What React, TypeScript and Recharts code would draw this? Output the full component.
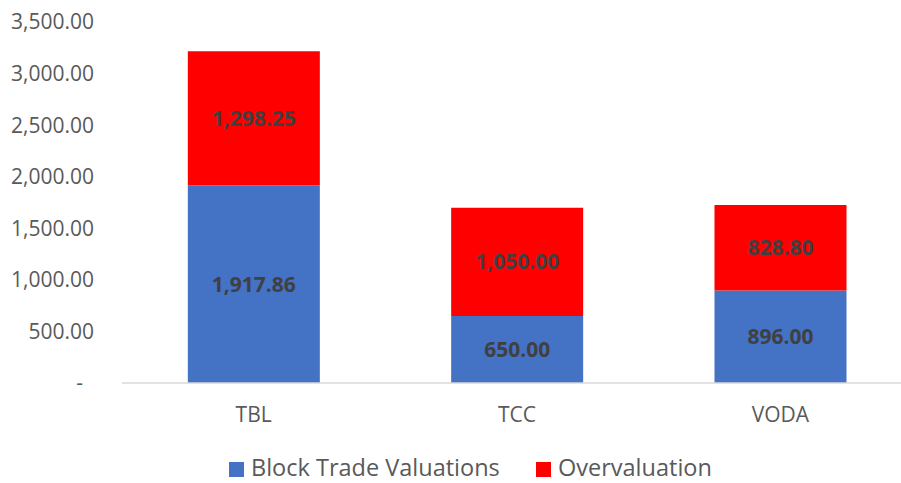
import { Bar, BarChart, LabelList, XAxis, YAxis } from "recharts";

const companies = ["TBL", "TCC", "VODA"];
const blockTrade = [1917.86, 650.0, 896.0];
const overvaluation = [1298.25, 1050.0, 828.8];
const yTicks = [0, 500, 1000, 1500, 2000, 2500, 3000, 3500];

const data = companies.map((name, i) => ({
  name,
  block: blockTrade[i],
  over: overvaluation[i],
}));

const FONT = "'Open Sans', sans-serif";

const fmt = (v: number) =>
  v === 0
    ? "-\u00a0\u00a0"
    : v.toLocaleString("en-US", { minimumFractionDigits: 2, maximumFractionDigits: 2 });

// legend sits below the plot; text box kept inside the 483px page
function ChartLegend() {
  const items = [
    { label: "Block Trade Valuations", color: "#4472c4", left: 229 },
    { label: "Overvaluation", color: "#ff0000", left: 536 },
  ];
  return (
    <>
      {items.map((it) => (
        <div key={it.label}>
          <span
            style={{
              position: "absolute",
              left: it.left,
              top: 462,
              width: 15,
              height: 15,
              background: it.color,
            }}
          />
          <span
            style={{
              position: "absolute",
              left: it.left + 22,
              top: 451,
              lineHeight: "32px",
              fontFamily: FONT,
              fontSize: 23.5,
              color: "#595959",
              whiteSpace: "nowrap",
            }}
          >
            {it.label}
          </span>
        </div>
      ))}
    </>
  );
}

export default function App() {
  return (
    <div style={{ position: "fixed", left: 0, top: 0, width: 901, height: 483, background: "#fff" }}>
      <div style={{ width: 901, height: 483, overflow: "hidden" }}>
        <BarChart
          width={920}
          height={483}
          data={data}
          margin={{ top: 22, right: 8, bottom: 70, left: 0 }}
          barCategoryGap="25%"
        >
          <XAxis
            dataKey="name"
            height={30}
            axisLine={{ stroke: "#d9d9d9", strokeWidth: 1.5 }}
            tickLine={false}
            tickSize={0}
            tickMargin={24}
            tick={{ fill: "#595959", fontSize: 21, fontFamily: FONT }}
          />
          <YAxis
            width={122}
            domain={[0, 3500]}
            ticks={yTicks}
            axisLine={false}
            tickLine={false}
            tickSize={0}
            tickMargin={28}
            tickFormatter={fmt}
            tick={{ fill: "#595959", fontSize: 21, fontFamily: FONT }}
          />
          <Bar dataKey="block" stackId="a" fill="#4472c4" isAnimationActive={false} name="Block Trade Valuations">
            <LabelList
              dataKey="block"
              position="center"
              formatter={(v: any) => fmt(Number(v))}
              style={{ fill: "#404040", fontSize: 21, fontWeight: 700, fontFamily: FONT }}
            />
          </Bar>
          <Bar dataKey="over" stackId="a" fill="#ff0000" isAnimationActive={false} name="Overvaluation">
            <LabelList
              dataKey="over"
              position="center"
              formatter={(v: any) => fmt(Number(v))}
              style={{ fill: "#404040", fontSize: 21, fontWeight: 700, fontFamily: FONT }}
            />
          </Bar>
        </BarChart>
      </div>
      <ChartLegend />
    </div>
  );
}
